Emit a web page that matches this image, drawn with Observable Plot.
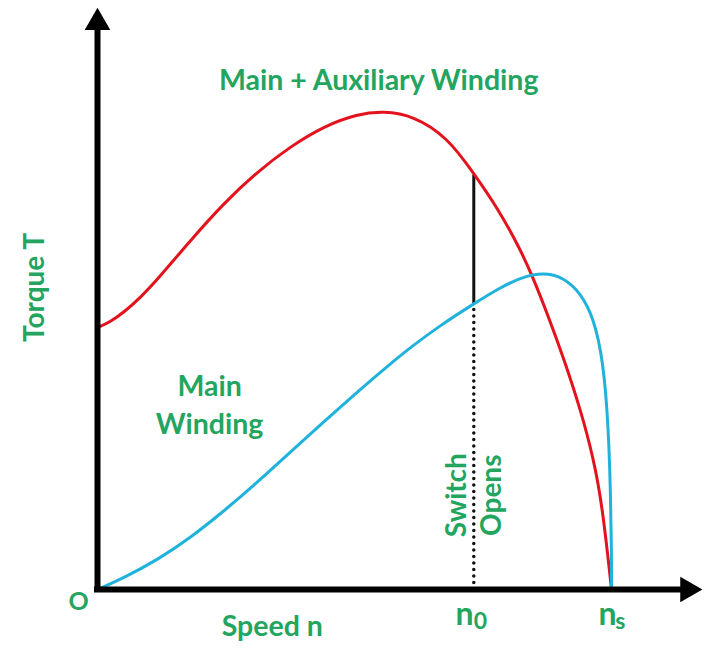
<!DOCTYPE html>
<html>
<head>
<meta charset="utf-8">
<script src="https://cdn.jsdelivr.net/npm/d3@7"></script>
<script src="https://cdn.jsdelivr.net/npm/@observablehq/plot@0.6"></script>
<style>
  html, body { margin: 0; padding: 0; background: #fff; }
  svg { display: block; }
</style>
</head>
<body>
<div id="chart"></div>
<script>
// ---- data (speed in % of synchronous speed, torque in arbitrary units) ----
const mainAuxSpeed  = [0, 2.5, 5.1, 8.4, 11.7, 18.1, 24.5, 31.1, 37.5, 44.0, 50.6, 55.6, 61.5, 68.1, 73.2, 77.8, 82.3, 84.8, 87.5, 90.7, 94.0, 96.5, 98.2, 100];
const mainAuxTorque = [45.0, 46.0, 47.6, 50.2, 53.3, 60.0, 66.3, 71.8, 76.1, 79.6, 81.7, 82.2, 81.4, 77.7, 71.5, 65.6, 58.4, 53.4, 47.4, 39.7, 30.8, 22.5, 14.4, 0];

const mainSpeed  = [0, 5.1, 11.7, 18.1, 24.5, 31.1, 37.5, 44.0, 50.6, 57.0, 60.9, 66.7, 73.2, 78.4, 82.3, 86.8, 90.7, 94.0, 96.5, 98.4, 99.4, 99.8, 100, 100];
const mainTorque = [0, 2.0, 5.1, 8.9, 13.4, 18.4, 23.6, 28.8, 34.0, 38.8, 41.6, 45.4, 49.1, 51.9, 53.6, 54.5, 53.6, 50.9, 46.7, 39.3, 27.8, 16.5, 6.7, 0];

const switchSpeed = 73.2;          // n0
const switchTorqueTop = 71.2;      // on main+aux curve
const switchTorqueBottom = 49.1;   // on main curve

const xAxisEnd = 114.8;
const yAxisEnd = 97.4;

// ---- labels ----
const green = "#23a55f";
const font = "Lato, 'Open Sans', sans-serif";

const labels = [
  {text: "Main + Auxiliary Winding", x: 54.7, y: 88.0},
  {text: "Main\nWinding", x: 21.8, y: 32.1},
  {text: "Speed n", x: 34.0, y: -5.96}
];
const rotatedLabels = [
  {text: "Torque T", x: -12.1, y: 51.9},
  {text: "Switch\nOpens", x: 73.0, y: 16.2}
];
const originLabel = [{text: "O", x: -3.7, y: -2.23}];
const speedMarks = [
  {text: "n", sub: "0", x: 71.4, sx: 74.5},
  {text: "n", sub: "s", x: 99.2, sx: 101.7}
];

const mainAux = d3.zip(mainAuxSpeed, mainAuxTorque).map(([x, y]) => ({x, y}));
const main = d3.zip(mainSpeed, mainTorque).map(([x, y]) => ({x, y}));

const chart = Plot.plot({
  width: 719,
  height: 649,
  marginLeft: 97,
  marginRight: 0,
  marginTop: 7,
  marginBottom: 60,
  x: {domain: [0, 121], axis: null},
  y: {domain: [0, 100], axis: null},
  style: {background: "#fff", overflow: "visible"},
  marks: [
    // switch line: solid between curves, dotted down to axis
    Plot.ruleX([switchSpeed], {y1: switchTorqueBottom, y2: switchTorqueTop, stroke: "#111", strokeWidth: 3}),
    Plot.ruleX([switchSpeed], {y1: 0, y2: switchTorqueBottom, stroke: "#111", strokeWidth: 3.5, strokeDasharray: "0,6.5", strokeLinecap: "round"}),
    // curves
    Plot.line(mainAux, {x: "x", y: "y", stroke: "#e3121c", strokeWidth: 3, curve: "basis"}),
    Plot.line(main, {x: "x", y: "y", stroke: "#1fb3dc", strokeWidth: 3, curve: "basis"}),
    // axes
    Plot.ruleY([0], {x1: 0, x2: xAxisEnd, stroke: "#000", strokeWidth: 6, strokeLinecap: "square"}),
    Plot.ruleX([0], {y1: 0, y2: yAxisEnd, stroke: "#000", strokeWidth: 6, strokeLinecap: "square"}),
    Plot.dot([{x: xAxisEnd, y: 0}], {x: "x", y: "y", symbol: "triangle", r: 9.5, fill: "#000", stroke: null, rotate: 90}),
    Plot.dot([{x: 0, y: yAxisEnd}], {x: "x", y: "y", symbol: "triangle", r: 9.5, fill: "#000", stroke: null}),
    // texts
    Plot.text(labels, {x: "x", y: "y", text: "text", fill: green, fontSize: 28.5, fontWeight: "bold", fontFamily: font, lineHeight: 1.34}),
    Plot.text(rotatedLabels.slice(0, 1), {x: "x", y: "y", text: "text", fill: green, fontSize: 28, fontWeight: "bold", fontFamily: font, rotate: -90}),
    Plot.text(rotatedLabels.slice(1), {x: "x", y: "y", text: "text", fill: green, fontSize: 28, fontWeight: "bold", fontFamily: font, rotate: -90, lineHeight: 1.25}),
    Plot.text(originLabel, {x: "x", y: "y", text: "text", fill: green, fontSize: 25, fontWeight: "bold", fontFamily: font}),
    Plot.text(speedMarks, {x: "x", y: () => -4.3, text: "text", fill: green, fontSize: 32, fontWeight: "bold", fontFamily: font}),
    Plot.text(speedMarks, {x: "sx", y: () => -5.5, text: "sub", fill: green, fontSize: 23, fontWeight: "bold", fontFamily: font})
  ]
});
document.getElementById("chart").appendChild(chart);
</script>
</body>
</html>
